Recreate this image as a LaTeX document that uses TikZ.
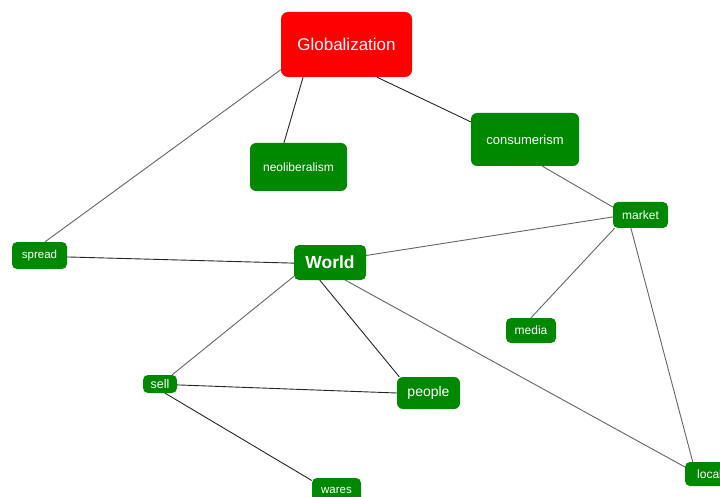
\documentclass[tikz,border=0pt]{standalone}
\usepackage{fontspec}
\setmainfont{Liberation Sans}
\definecolor{nodegreen}{RGB}{0,136,0}
\definecolor{nodered}{RGB}{255,0,0}
\definecolor{linkgray}{RGB}{100,100,100}
\begin{document}
\begin{tikzpicture}[x=1pt,y=-1pt,
    box/.style={fill=nodegreen,text=white,rounded corners=5pt,inner sep=0pt,
      font=\fontsize{12}{14}\selectfont},
    link/.style={draw=linkgray,line width=0.9pt},
    darklink/.style={draw=black!85,line width=0.9pt}]
  \clip (0,0) rectangle (720,497);
          \node (1) [box,fill=nodered,rounded corners=7pt,minimum width=131pt,minimum height=65pt,font=\fontsize{17}{20}\selectfont] at (346.5,44.5) {Globalization};
          \node (2) [box,rounded corners=6pt,minimum width=97pt,minimum height=48pt] at (298.5,167) {neoliberalism};
          \node (3) [box,rounded corners=6pt,minimum width=108pt,minimum height=53pt,font=\fontsize{13}{15}\selectfont] at (525,139.5) {consumerism};
          \node (4) [box,minimum width=55pt,minimum height=26pt] at (640.5,215) {market};
          \node (5) [box,minimum width=55pt,minimum height=27pt,font=\fontsize{11.5}{14}\selectfont] at (39.5,255.5) {spread};
          \node (6) [box,minimum width=72pt,minimum height=35pt,font=\fontsize{17.5}{20}\selectfont\bfseries] at (330,262.5) {World};
          \node (7) [box,minimum width=50pt,minimum height=25pt] at (531,330.5) {media};
          \node (8) [box,minimum width=34pt,minimum height=18pt,font=\fontsize{12.5}{14}\selectfont] at (160,384) {sell};
          \node (9) [box,rounded corners=6pt,minimum width=63pt,minimum height=32pt,font=\fontsize{14}{16}\selectfont] at (428.5,393) {people};
          \node (10) [box,minimum width=49pt,minimum height=25pt,font=\fontsize{11.5}{14}\selectfont] at (336.5,490.5) {wares};
          \node (11) [box,minimum width=49pt,minimum height=24pt] at (709.5,474) {local};

		  \path
			(1.201) edge[link] (5.68)
			(1.217) edge[darklink] (2.121)
			(1.313) edge[darklink] (3.162)
			(3.303) edge[link] (4.164)
			(6.11) edge[link] (4.184)
			(5.357) edge[darklink] (6.181)
			(6.201) edge[link] (8.37)
			(6.240) edge[darklink] (9.151)
			(6.311) edge[link] (11.164)
			(4.207) edge[link] (7.90)
			(4.234) edge[link] (11.144)
			(8.357) edge[darklink] (9.180)
			(8.299) edge[darklink] (10.158);

\end{tikzpicture}
\end{document}
